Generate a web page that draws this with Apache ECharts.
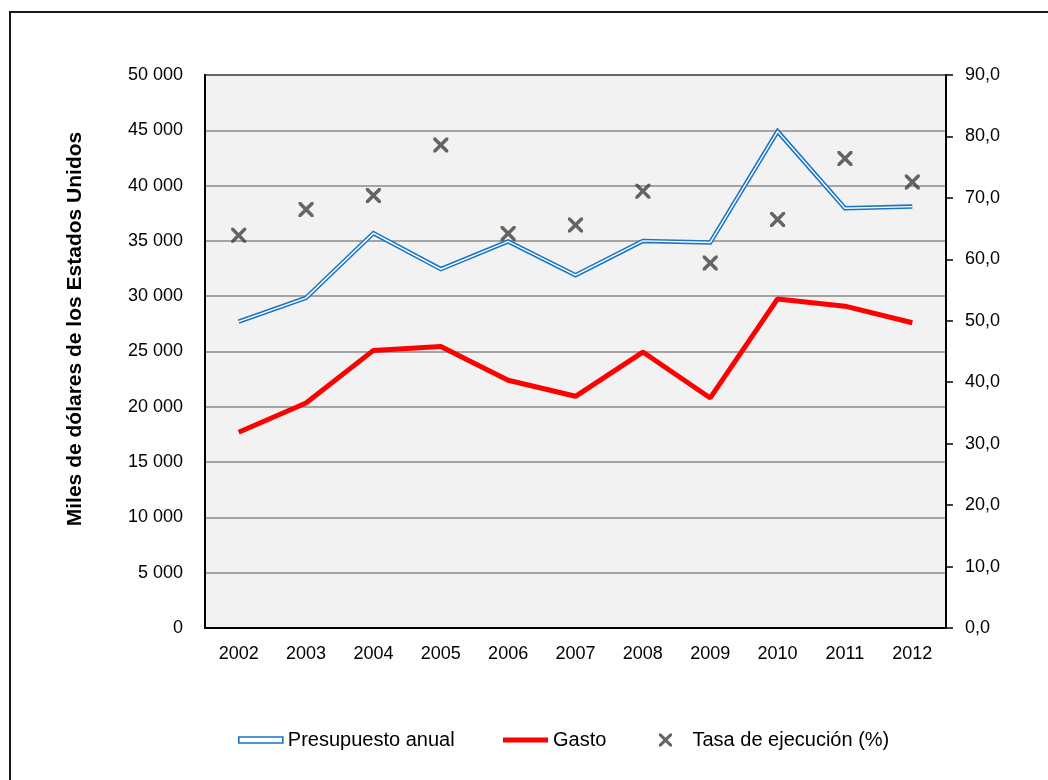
<!DOCTYPE html>
<html>
<head>
<meta charset="utf-8">
<script src="https://cdn.jsdelivr.net/npm/echarts@6/dist/echarts.min.js"></script>
<style>
html,body{margin:0;padding:0;background:#fff;}
#chart{width:1048px;height:780px;}
</style>
</head>
<body>
<div id="chart"></div>
<script>
var years = ['2002','2003','2004','2005','2006','2007','2008','2009','2010','2011','2012'];
var presupuesto = [27700, 29850, 35700, 32450, 34950, 31900, 35000, 34850, 44900, 37950, 38100];
var gasto = [17700, 20350, 25100, 25450, 22400, 20950, 24950, 20800, 29750, 29100, 27600];
var tasa = [63.9, 68.1, 70.4, 78.6, 64.2, 65.6, 71.1, 59.4, 66.5, 76.4, 72.6];
var leftTicks = [0, 5000, 10000, 15000, 20000, 25000, 30000, 35000, 40000, 45000, 50000];
var rightTicks = [0, 10, 20, 30, 40, 50, 60, 70, 80, 90];

var FONT = "'Liberation Sans Narrow','Arial Narrow','Liberation Sans',Arial,sans-serif";
var BLUE = '#1a74c4';
var XPATH = 'path://M0,0 L2.3,0 L7,4.7 L11.7,0 L14,0 L14,2.3 L9.3,7 L14,11.7 L14,14 L11.7,14 L7,9.3 L2.3,14 L0,14 L0,11.7 L4.7,7 L0,2.3 Z';

var chart = echarts.init(document.getElementById('chart'), null, {renderer:'canvas'});
var option = {
  animation: false,
  backgroundColor: '#ffffff',
  textStyle: {fontFamily: FONT},
  graphic: [
    {type:'rect', left:9, top:11, z:-10, silent:true,
     shape:{x:0, y:0, width:1200, height:1000},
     style:{fill:'#ffffff', stroke:'#1a1a1a', lineWidth:2}},
    {type:'text', x:75, y:329, rotation:Math.PI/2, z:10,
     style:{text:'Miles de dólares de los Estados Unidos', fill:'#000',
            font:"bold 21px 'Liberation Sans Narrow','Arial Narrow','Liberation Sans',Arial,sans-serif",
            align:'center', verticalAlign:'middle'}}
  ],
  grid: {left:205, top:75, right:102, bottom:152, show:true,
         backgroundColor:'#f2f2f2', borderColor:'#000', borderWidth:2},
  legend: [
    {data:[{name:'Presupuesto anual', icon:'rect',
            itemStyle:{color:'#ffffff', borderColor:BLUE, borderWidth:1.6}}],
     left:233, top:725, itemWidth:44, itemHeight:6,
     textStyle:{fontFamily:FONT, fontSize:20, color:'#000'}, selectedMode:false},
    {data:[{name:'Gasto', icon:'rect', itemStyle:{color:'#ff0000', borderWidth:0}}],
     left:498, top:725, itemWidth:45, itemHeight:5,
     textStyle:{fontFamily:FONT, fontSize:20, color:'#000'}, selectedMode:false},
    {data:[{name:'Tasa de ejecución (%)', icon:XPATH, itemStyle:{color:'#404040'}}],
     left:654, top:725, itemWidth:44, itemHeight:13,
     textStyle:{fontFamily:FONT, fontSize:20, color:'#000'}, selectedMode:false}
  ],
  xAxis: {
    type:'category', data:years, boundaryGap:true,
    axisLine:{lineStyle:{color:'#000', width:2}},
    axisTick:{show:false},
    axisLabel:{color:'#000', fontSize:18, fontFamily:FONT, margin:17}
  },
  yAxis: [
    {type:'value', min:leftTicks[0], max:leftTicks[leftTicks.length-1], interval:leftTicks[1]-leftTicks[0],
     axisLine:{show:true, lineStyle:{color:'#000', width:2}},
     axisTick:{show:false},
     splitLine:{show:true, lineStyle:{color:'#8a8a8a', width:1.5}},
     axisLabel:{color:'#000', fontSize:18, fontFamily:FONT, margin:22,
       formatter:function(v){return String(v).replace(/\B(?=(\d{3})+(?!\d))/g,' ');}}},
    {type:'value', position:'right', min:rightTicks[0], max:rightTicks[rightTicks.length-1], interval:rightTicks[1]-rightTicks[0],
     axisLine:{show:true, lineStyle:{color:'#000', width:2}},
     axisTick:{show:true, inside:false, length:7, lineStyle:{color:'#000', width:1.5}},
     splitLine:{show:false},
     axisLabel:{color:'#000', fontSize:18, fontFamily:FONT, margin:19,
       formatter:function(v){return v.toFixed(1).replace('.',',');}}}
  ],
  series: [
    {name:'Presupuesto anual', type:'line', yAxisIndex:0, data:presupuesto,
     symbol:'none', z:3, lineStyle:{color:BLUE, width:4.5, join:'miter'}, itemStyle:{color:BLUE}},
    {name:'Presupuesto anual interior', type:'line', yAxisIndex:0, data:presupuesto,
     symbol:'none', z:4, silent:true, lineStyle:{color:'#ffffff', width:1.4, join:'miter'}, itemStyle:{color:'#fff'}},
    {name:'Gasto', type:'line', yAxisIndex:0, data:gasto,
     symbol:'none', z:3, lineStyle:{color:'#ff0000', width:5}, itemStyle:{color:'#ff0000'}},
    {name:'Tasa de ejecución (%)', type:'scatter', yAxisIndex:1, data:tasa,
     symbol:XPATH, symbolSize:15, z:5, itemStyle:{color:'#404040'}}
  ]
};
chart.setOption(option);
</script>
</body>
</html>
